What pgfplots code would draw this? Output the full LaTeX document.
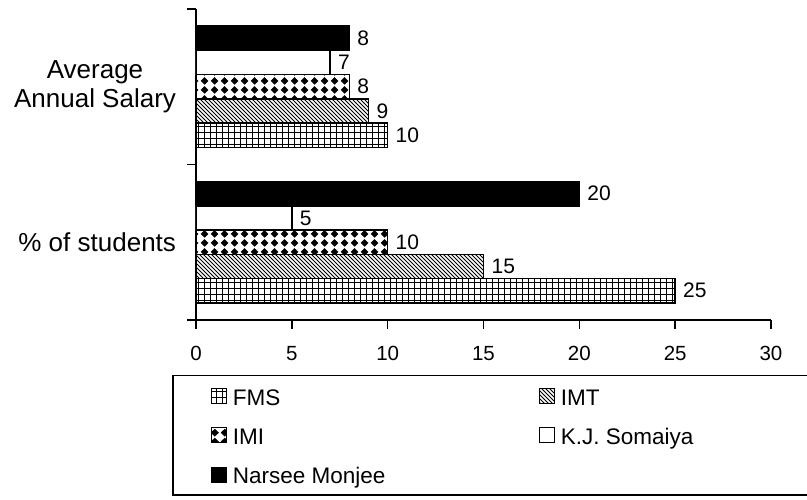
\documentclass[border=0pt]{standalone}
\usepackage{fontspec}
\setmainfont{Liberation Sans}
\usepackage{pgfplots}
\pgfplotsset{compat=1.18}
\usetikzlibrary{patterns}
\pgfdeclarepatternformonly{mygrid}{\pgfqpoint{-1pt}{-1pt}}{\pgfqpoint{7pt}{7pt}}{\pgfqpoint{6pt}{6pt}}{%
  \pgfsetlinewidth{1pt}%
  \pgfpathmoveto{\pgfqpoint{0pt}{-0.5pt}}\pgfpathlineto{\pgfqpoint{0pt}{6.5pt}}%
  \pgfpathmoveto{\pgfqpoint{-0.5pt}{0pt}}\pgfpathlineto{\pgfqpoint{6.5pt}{0pt}}%
  \pgfusepath{stroke}}
\pgfdeclarepatternformonly{mynwlines}{\pgfqpoint{-1pt}{-1pt}}{\pgfqpoint{5pt}{5pt}}{\pgfqpoint{4pt}{4pt}}{%
  \pgfsetlinewidth{0.9pt}%
  \pgfpathmoveto{\pgfqpoint{0pt}{4pt}}\pgfpathlineto{\pgfqpoint{4.1pt}{-0.1pt}}%
  \pgfusepath{stroke}}
\pgfdeclarepatternformonly{mydiamonds}{\pgfqpoint{0pt}{0pt}}{\pgfqpoint{10pt}{9pt}}{\pgfqpoint{10pt}{9pt}}{%
  \pgfpathmoveto{\pgfqpoint{5pt}{0.3pt}}\pgfpathlineto{\pgfqpoint{9.2pt}{4.5pt}}%
  \pgfpathlineto{\pgfqpoint{5pt}{8.7pt}}\pgfpathlineto{\pgfqpoint{0.8pt}{4.5pt}}\pgfpathclose
  \pgfusepath{fill}}
\begin{document}
\begin{tikzpicture}
\useasboundingbox (0,0) rectangle (807pt,499pt);
\begin{axis}[
  at={(196pt,179pt)}, anchor=south west,
  scale only axis, width=575pt, height=311pt,
  xbar, bar width=0.156,
  xmin=0, xmax=30, ymin=-0.5, ymax=1.5,
  xtick={0,5,10,15,20,25,30},
  ytick={-0.5,0.5,1.5},
  yticklabels={,,},
  extra y ticks={0,1},
  extra y tick labels={\% of students, Average\\Annual Salary},
  extra y tick style={tick style={draw=none}},
  axis lines*=left,
  tick align=outside,
  major tick length=8.5pt,
  axis line style={line width=1.5pt},
  every tick/.style={black, line width=1.5pt},
  /pgf/number format/assume math mode=true,
  xticklabel style={font=\fontsize{20.5}{20.5}\selectfont, yshift=-14pt},
  yticklabel style={font=\fontsize{26}{29.5}\selectfont, align=center, xshift=-8pt},
  nodes near coords,
  nodes near coords style={font=\fontsize{21}{21}\selectfont, black, xshift=4pt},
  legend image code/.code={\draw[#1, line width=1pt] (0pt,-7.5pt) rectangle (15pt,7.5pt);},
  legend columns=2,
  legend cell align=left,
  legend style={at={(-0.0417,-0.1768)}, anchor=north west, draw=black, line width=1.5pt,
    font=\fontsize{22.5}{27.6}\selectfont, inner xsep=38pt, inner ysep=8pt,
    row sep=14.5pt, column sep=0pt, nodes={inner sep=2pt}},
]
\addplot[draw=black, line width=1.5pt, pattern=mygrid, bar shift=-0.312] coordinates {(25,0) (10,1)};
\addlegendentry{\makebox[308pt][l]{\hspace*{4pt}\strut FMS}}
\addplot[draw=black, line width=1.5pt, pattern=mynwlines, bar shift=-0.156] coordinates {(15,0) (9,1)};
\addlegendentry{\makebox[308pt][l]{\hspace*{4pt}\strut IMT}}
\addplot[draw=black, line width=1.5pt, pattern=mydiamonds, bar shift=0] coordinates {(10,0) (8,1)};
\addlegendentry{\makebox[308pt][l]{\hspace*{4pt}\strut IMI}}
\addplot[draw=black, line width=1.5pt, fill=white, bar shift=0.156] coordinates {(5,0) (7,1)};
\addlegendentry{\makebox[308pt][l]{\hspace*{4pt}\strut K.J. Somaiya}}
\addplot[draw=black, line width=1.5pt, fill=black, bar shift=0.312] coordinates {(20,0) (8,1)};
\addlegendentry{\makebox[308pt][l]{\hspace*{4pt}\strut Narsee Monjee}}
\end{axis}
\end{tikzpicture}
\end{document}
